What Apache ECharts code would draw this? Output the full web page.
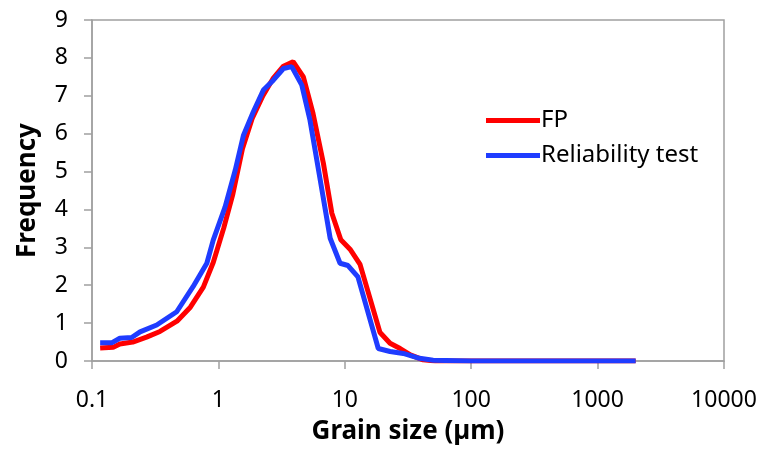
<!DOCTYPE html>
<html>
<head>
<meta charset="utf-8">
<script src="https://cdn.jsdelivr.net/npm/echarts@6/dist/echarts.min.js"></script>
<style>html,body{margin:0;padding:0;background:#fff;}#c{width:768px;height:455px;}</style>
</head>
<body>
<div id="c"></div>
<script>
const xTicks = [0.1, 1, 10, 100, 1000, 10000];
const yTicks = [0, 1, 2, 3, 4, 5, 6, 7, 8, 9];
const seriesNames = ['FP', 'Reliability test'];

const fpSize = [0.116, 0.147, 0.166, 0.21, 0.27, 0.345, 0.47, 0.6, 0.76, 0.91, 1.1, 1.3, 1.55, 1.85, 2.25, 2.7, 3.27, 3.9, 4.7, 5.6, 6.77, 7.9, 9.3, 11.0, 13.2, 19.0, 22.8, 27.4, 33, 41.7, 52, 100, 200, 500, 1000, 2000];
const fpFreq = [0.34, 0.36, 0.45, 0.5, 0.63, 0.78, 1.05, 1.42, 1.95, 2.6, 3.5, 4.4, 5.6, 6.4, 7.0, 7.45, 7.78, 7.9, 7.5, 6.54, 5.22, 3.9, 3.2, 2.95, 2.55, 0.75, 0.47, 0.33, 0.16, 0.03, 0, 0, 0, 0, 0, 0];

const relSize = [0.116, 0.143, 0.166, 0.206, 0.24, 0.325, 0.468, 0.63, 0.81, 0.91, 1.13, 1.36, 1.58, 1.89, 2.27, 2.72, 3.27, 3.8, 4.57, 5.3, 6.39, 7.66, 9.17, 10.6, 12.7, 18.4, 22.8, 29, 39, 50, 100, 200, 500, 1000, 2000];
const relFreq = [0.48, 0.48, 0.6, 0.62, 0.77, 0.95, 1.3, 1.96, 2.58, 3.19, 4.07, 5.04, 5.96, 6.58, 7.15, 7.41, 7.72, 7.77, 7.28, 6.36, 4.78, 3.24, 2.58, 2.52, 2.22, 0.33, 0.25, 0.2, 0.07, 0.02, 0, 0, 0, 0, 0];

const pair = (xs, ys) => xs.map((x, i) => [x, ys[i]]);
const font = 'Noto Sans, DejaVu Sans, sans-serif';
const axisGrey = '#a0a0a0';

const chart = echarts.init(document.getElementById('c'), null, {renderer: 'canvas'});
chart.setOption({
  animation: false,
  backgroundColor: '#fff',
  grid: {left: 92, top: 20, right: 44, bottom: 94, show: true, borderColor: axisGrey, borderWidth: 1.5, containLabel: false},
  legend: {
    orient: 'vertical', left: 481, top: 102,
    itemWidth: 54, itemHeight: 5, itemGap: 8, icon: 'rect',
    textStyle: {fontFamily: font, fontSize: 24, color: '#000', padding: [0, 0, 0, -4], lineHeight: 27},
    data: seriesNames
  },
  xAxis: {
    type: 'log', logBase: 10, min: xTicks[0], max: xTicks[xTicks.length - 1],
    name: 'Grain size (µm)', nameLocation: 'middle', nameGap: 58,
    nameTextStyle: {fontFamily: font, fontSize: 26, fontWeight: 'bold', color: '#000'},
    axisLine: {show: true, lineStyle: {color: axisGrey, width: 1.5}},
    axisTick: {show: true, inside: false, length: 8, lineStyle: {color: axisGrey, width: 1.5}},
    minorTick: {show: false},
    splitLine: {show: false},
    axisLabel: {fontFamily: font, fontSize: 23, color: '#000', margin: 28,
      formatter: v => { const t = xTicks.find(k => Math.abs(Math.log10(k) - Math.log10(v)) < 1e-6); return t === undefined ? '' : String(t); }}
  },
  yAxis: {
    type: 'value', min: yTicks[0], max: yTicks[yTicks.length - 1], interval: 1,
    name: 'Frequency', nameLocation: 'middle', nameGap: 51, nameRotate: 90,
    nameTextStyle: {fontFamily: font, fontSize: 26, fontWeight: 'bold', color: '#000'},
    axisLine: {show: true, lineStyle: {color: axisGrey, width: 1.5}},
    axisTick: {show: true, inside: false, length: 8, lineStyle: {color: axisGrey, width: 1.5}},
    splitLine: {show: false},
    axisLabel: {fontFamily: font, fontSize: 23, color: '#000', margin: 24}
  },
  series: [
    {name: seriesNames[0], type: 'line', data: pair(fpSize, fpFreq), showSymbol: false, symbol: 'none',
     lineStyle: {color: '#ff0000', width: 5}, itemStyle: {color: '#ff0000'}, z: 2},
    {name: seriesNames[1], type: 'line', data: pair(relSize, relFreq), showSymbol: false, symbol: 'none',
     lineStyle: {color: '#1f3cff', width: 5}, itemStyle: {color: '#1f3cff'}, z: 3}
  ]
});
</script>
</body>
</html>
